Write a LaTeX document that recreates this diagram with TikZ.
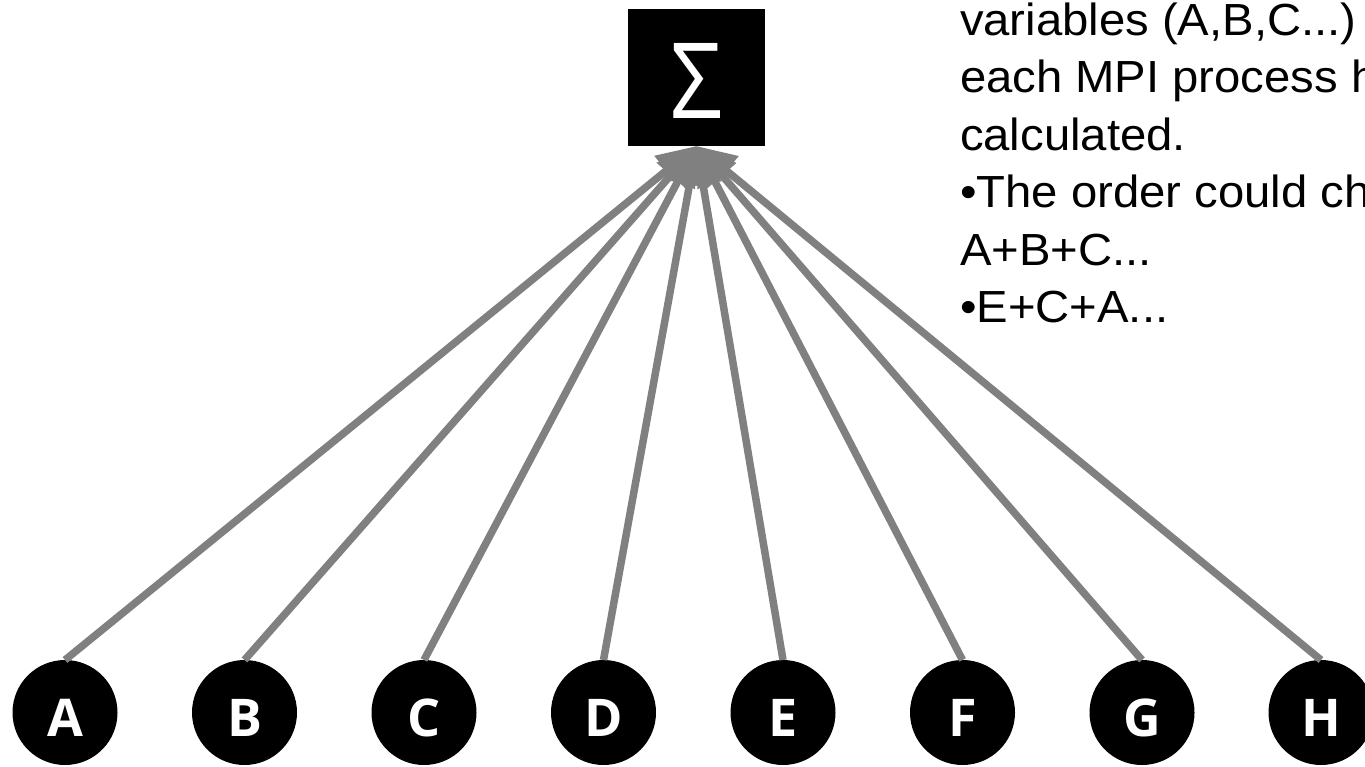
\documentclass[tikz,border=0pt]{standalone}
\usepackage{fontspec}
\setmainfont{Liberation Sans}
\newfontfamily\notefont[FakeStretch=1.05]{Liberation Sans}
\newfontfamily\letterfont{Open Sans}
\usetikzlibrary{arrows.meta}
\definecolor{linegray}{RGB}{128,128,128}
\tikzset{
  leaf/.style={circle, fill=black, minimum size=105pt, inner sep=0pt, outer sep=0pt,
    text=white, font=\letterfont\bfseries\fontsize{52}{52}\selectfont,
    text height=48pt, text depth=0pt},
  sumbox/.style={rectangle, fill=black, minimum width=137pt, minimum height=137pt,
    inner sep=0pt, outer sep=0pt, text=white, text height=81pt, text depth=0pt},
  conn/.style={draw=linegray, line width=7.5pt, -{Triangle[length=39pt,width=36pt]}},
  note/.style={anchor=base west, inner sep=0pt, outer sep=0pt,
    font=\notefont\fontsize{45}{54}\selectfont}
}
\begin{document}
\begin{tikzpicture}[x=1pt, y=-1pt]
\useasboundingbox (0,0) rectangle (1365,766);
\clip (0,0) rectangle (1365,766);
\node[sumbox] (sig) at (696.5,77.5) {\resizebox{52pt}{75pt}{\letterfont Σ}};
\node[leaf] (a) at (65,712.5) {A};
\node[leaf] (b) at (244.5,712.5) {B};
\node[leaf] (c) at (424,712.5) {C};
\node[leaf] (d) at (603.5,712.5) {D};
\node[leaf] (e) at (783,712.5) {E};
\node[leaf] (f) at (962.5,712.5) {F};
\node[leaf] (g) at (1142,712.5) {G};
\node[leaf] (h) at (1321,712.5) {H};
\foreach \n in {a,b,c,d,e,f,g,h}{
  \draw[conn] (\n.north) -- (sig.south);
}
\node[note] (t1) at (960,35) {variables (A,B,C...)};
\node[note] (t2) at (960,92.5) {each MPI process h};
\node[note] (t3) at (960,150) {calculated.};
\node[note] (t4) at (960,207) {•The order could ch};
\node[note] (t5) at (960,265) {A+B+C...};
\node[note] (t6) at (960,322) {•E+C+A...};
\end{tikzpicture}
\end{document}
